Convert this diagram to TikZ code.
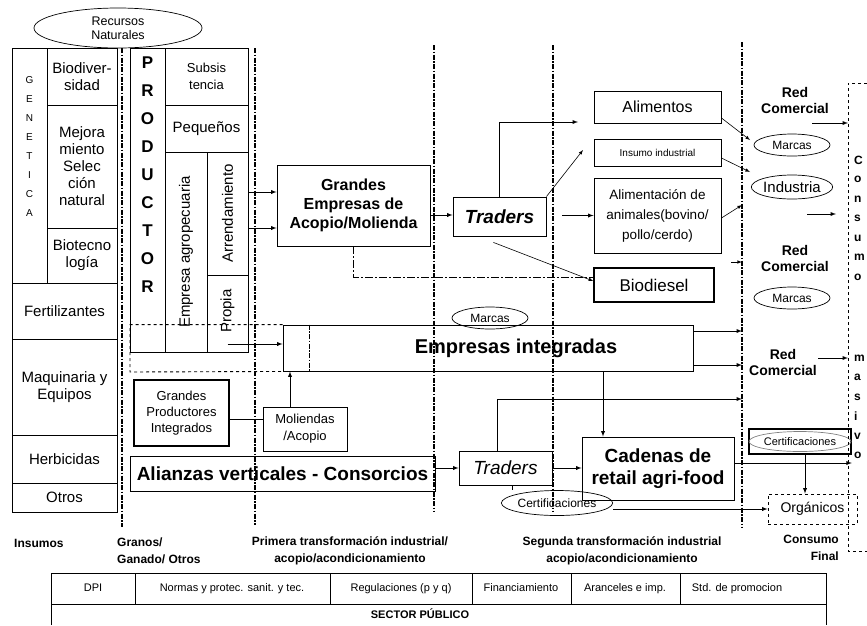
\documentclass[tikz,border=0pt]{standalone}
\usepackage{fontspec}
\setmainfont{Liberation Sans}
\usetikzlibrary{shapes.geometric}
\begin{document}
\begin{tikzpicture}[x=1pt, y=-1pt,
        every node/.style={font=\fontsize{15}{17}\selectfont, inner sep=1pt, align=center},
        box/.style={draw, line width=0.9pt},
        heavy/.style={draw, line width=1.6pt},
        oval/.style={draw, ellipse, line width=0.7pt, inner sep=0pt},
        big/.style={font=\bfseries\fontsize{19}{22}\selectfont},
        tag/.style={font=\bfseries\fontsize{14}{16}\selectfont},
        foot/.style={font=\bfseries\fontsize{12}{17}\selectfont},
        cell/.style={font=\fontsize{11}{13}\selectfont, text height=8pt, text depth=2.5pt},
        vletter/.style={anchor=west, inner sep=0pt, font=\bfseries\fontsize{12}{14}\selectfont},
        sep/.style={line width=1.2pt, dash pattern=on 5pt off 1.5pt on 1.5pt off 1.5pt},
        guide/.style={line width=0.8pt, dash pattern=on 8pt off 2pt on 2pt off 2pt},
        arr/.style={->, >=latex, line width=0.9pt},
        thinarr/.style={->, >=latex, line width=0.6pt}]
      \useasboundingbox (0,0) rectangle (867,625);

      % phase separators
      \foreach \x/\t/\b in {122/48/527, 255/48/525, 434/45/512, 553/45/512, 742/42/527}
        \draw[sep] (\x,\t) -- (\x,\b);
      \coordinate (s5) at (742,0);

      % insumos
      \node[oval, minimum width=168, minimum height=40, font=\fontsize{12.5}{14}\selectfont] (recnat) at (118,28) {Recursos\\Naturales};
      \node[box, minimum width=35, minimum height=235] (gen) at (29.5,165.5) {};
      \foreach \l [count=\i] in {G,E,N,E,T,I,C,A}
        \node[font=\fontsize{10}{12}\selectfont] (gen\i) at (29.5,61+19*\i) {\l};
      \node[box, minimum width=70, minimum height=57] (biodiv) at (82,76.5) {Biodiver-\\sidad};
      \node[box, minimum width=70, minimum height=123] (mejora) at (82,166.5) {Mejora\\miento\\Selec\\ción\\natural};
      \node[box, minimum width=70, minimum height=55] (biotec) at (82,255.5) {Biotecno\\logía};
      \node[box, minimum width=105, minimum height=56] (fert) at (64.5,311) {Fertilizantes};
      \node[box, minimum width=105, minimum height=96] (maq) at (64.5,387) {Maquinaria y\\Equipos};
      \node[box, minimum width=105, minimum height=48] (herb) at (64.5,459) {Herbicidas};
      \node[box, minimum width=105, minimum height=29] (otros) at (64.5,497.5) {Otros};

      % productor
      \node[box, minimum width=35, minimum height=304] (prod) at (147.5,200) {};
      \foreach \l [count=\i] in {P,R,O,D,U,C,T,O,R}
        \node[font=\bfseries\fontsize{17}{19}\selectfont] (prod\i) at (147.5,35+28*\i) {\l};
      \node[box, minimum width=83, minimum height=57, font=\fontsize{13}{17}\selectfont] (subs) at (206.5,76.5) {Subsis\\tencia};
      \node[box, minimum width=83, minimum height=47] (peq) at (206.5,128.5) {Pequeños};
      \node[box, minimum width=42, minimum height=200] (empagro) at (186,252) {};
      \node[rotate=90] (empagro-t) at (186,252) {Empresa agropecuaria};
      \node[box, minimum width=41, minimum height=123] (arrend) at (227.5,213.5) {};
      \node[rotate=90] (arrend-t) at (227.5,213.5) {Arrendamiento};
      \node[box, minimum width=41, minimum height=77] (propia) at (227.5,313.5) {};
      \node[rotate=90] (propia-t) at (227.5,311) {Propia};

      % primera transformacion
      \node[box, minimum width=153, minimum height=81, font=\bfseries\fontsize{16}{19}\selectfont] (grandes) at (353.5,205.5) {Grandes\\Empresas de\\Acopio/Molienda};
      \node[box, minimum width=93, minimum height=39, font=\bfseries\itshape\fontsize{19}{22}\selectfont] (traders1) at (499.5,216.5) {Traders};
      \node[box, minimum width=410, minimum height=46] (empint) at (488,348) {};
      \node[font=\bfseries\fontsize{20}{24}\selectfont] (empint-t) at (516,348) {Empresas integradas};
      \node[oval, minimum width=76, minimum height=22, font=\fontsize{12}{14}\selectfont] (marcas3) at (490,318) {Marcas};
      \coordinate (dbox) at (130,372);
      \draw[dashed, line width=0.9pt] (empint.north west) -| (dbox) -- (empint.south west);
      \draw[sep] ([xshift=27pt]empint.north west) -- ([xshift=27pt]empint.south west);
      \node[heavy, minimum width=95, minimum height=66, font=\fontsize{13}{16}\selectfont] (gpi) at (181.5,413) {Grandes\\Productores\\Integrados};
      \node[box, minimum width=84, minimum height=44, font=\fontsize{13}{17}\selectfont] (molac) at (305,429) {Moliendas\\/Acopio};
      \node[box, minimum width=305, minimum height=35, big] (alianzas) at (282.5,473.5) {Alianzas verticales - Consorcios};

      % segunda transformacion
      \node[box, minimum width=127, minimum height=32, font=\fontsize{16}{18}\selectfont] (alim) at (657.5,107) {Alimentos};
      \node[box, minimum width=127, minimum height=27, font=\fontsize{10}{12}\selectfont] (insumo) at (657.5,152.5) {Insumo industrial};
      \node[box, minimum width=127, minimum height=75, font=\fontsize{13.5}{20}\selectfont] (animal) at (657.5,215.5) {Alimentación de\\animales(bovino/\\pollo/cerdo)};
      \node[heavy, minimum width=120, minimum height=34, font=\fontsize{17}{19}\selectfont] (biodiesel) at (654,285) {Biodiesel};
      \node[box, minimum width=93, minimum height=34, font=\itshape\fontsize{19}{22}\selectfont] (traders2) at (505.5,468) {Traders};
      \node[box, minimum width=152, minimum height=63, big] (cadenas) at (658,468.5) {Cadenas de\\retail agri-food};
      \node[oval, minimum width=103, minimum height=25, font=\fontsize{12}{14}\selectfont] (certell) at (557,503) {Certificaciones};

      % consumo
      \node[tag] (redcom1) at (795,100) {Red\\Comercial};
      \node[oval, minimum width=76, minimum height=22, font=\fontsize{12}{14}\selectfont] (marcas1) at (792,145) {Marcas};
      \node[oval, minimum width=78, minimum height=24] (industria) at (792,187) {Industria};
      \node[tag] (redcom2) at (795,258) {Red\\Comercial};
      \node[oval, minimum width=76, minimum height=22, font=\fontsize{12}{14}\selectfont] (marcas2) at (792,298) {Marcas};
      \node[tag] (redcom3) at (783,362) {Red\\Comercial};
      \node[heavy, minimum width=102, minimum height=25] (certif) at (800,441.5) {};
      \node[oval, draw=black!50, minimum width=96, minimum height=20, font=\fontsize{11}{13}\selectfont] (certif-t) at (certif.center) {Certificaciones};
      \node[box, dashed, minimum width=89, minimum height=30, font=\fontsize{14}{16}\selectfont] (organicos) at (812.5,509) {Orgánicos};
      \coordinate (rb-top) at (867,83);
      \coordinate (rb-nw) at (848,83);
      \coordinate (rb-sw) at (848,551);
      \coordinate (rb-bot) at (867,551);
      \draw[dashed, line width=0.9pt] (rb-top) -- (rb-nw) -- (rb-sw) -- (rb-bot);
      \foreach \l [count=\i] in {C,o,n,s,u,m,o}
        \node[vletter] (cons\i) at (854,140.5+19.5*\i) {\l};
      \foreach \l [count=\i] in {m,a,s,i,v,o}
        \node[vletter] (mas\i) at (854,338.5+19.5*\i) {\l};

      % flows
      \draw[arr] (arrend.east |- 0,192) -- (grandes.west |- 0,192);
      \draw[arr] (arrend.east |- 0,228) -- (grandes.west |- 0,228);
      \draw[arr] (propia.center |- 0,344) -- (empint.west |- 0,344);
      \draw[arr] (grandes.east |- 0,215) -- (traders1.west |- 0,215);
      \draw[guide] (grandes.south) |- (biodiesel.west |- 0,277);
      \coordinate (to-alim) at (578,122);
      \draw[arr] (traders1.north) |- (to-alim);
      \coordinate (to-ins) at (583,150);
      \draw[thinarr] (traders1.north east) -- (to-ins);
      \coordinate (from-tr) at (562,215.5);
      \draw[arr] (from-tr) -- (animal.west);
      \draw[thinarr] ([xshift=-6pt,yshift=-6pt]traders1.south) -- (biodiesel.west |- 0,281);
      \coordinate (m1) at (750,140);
      \draw[thinarr] (alim.east |- 0,118) -- (m1);
      \coordinate (m2) at (750,172);
      \draw[thinarr] (insumo.east |- 0,158) -- (m2);
      \coordinate (m3) at (742,205);
      \draw[thinarr] (animal.east |- 0,218) -- (m3);
      \coordinate (m4) at (731,262);
      \draw[thinarr] (m4) -- (m4 -| s5);
      \draw[arr] (empint.east |- 0,331) -- (s5 |- 0,331);
      \draw[arr] (empint.east |- 0,365) -- (s5 |- 0,365);
      \draw[arr] (empint.south -| 603,0) -- (cadenas.north -| 603,0);
      \draw[line width=0.9pt] (gpi.east |- 0,419) -- (molac.west |- 0,419);
      \draw[arr] (molac.north -| 290,0) -- (empint.south -| 290,0);
      \draw[arr] (alianzas.east |- traders2.west) -- (traders2.west);
      \draw[arr] (traders2.north -| 497,0) |- (s5 |- 0,399);
      \draw[arr] (traders2.east) -- (traders2.east -| cadenas.west);
      \draw[line width=0.9pt] (traders2.south -| 512,0) -- (certell.north -| 512,0);
      \draw[arr] (certell.east |- organicos.west) -- (organicos.west);
      \draw[arr] (cadenas.east |- 0,463) -- (certif.east |- 0,463);
      \draw[arr] (certif.south -| 805,0) -- (organicos.north -| 805,0);
      \coordinate (rc1) at (812,123);
      \draw[arr] (rc1) -- (rc1 -| rb-nw);
      \coordinate (rc2) at (807,214);
      \draw[arr] (rc2) -- ++(29,0);
      \coordinate (rc3) at (818,358);
      \draw[arr] (rc3) -- (rc3 -| rb-nw);

      % stages
      \node[foot, anchor=west] (lab-ins) at (13,543) {Insumos};
      \node[foot, anchor=west, align=left] (lab-gra) at (116,551) {Granos/\\Ganado/ Otros};
      \node[foot] (lab-prim) at (350,551) {Primera transformación industrial/\\acopio/acondicionamiento};
      \node[foot] (lab-seg) at (622,551) {Segunda transformación industrial\\acopio/acondicionamiento};
      \node[foot, anchor=east, align=right] (lab-cons) at (840,548) {Consumo\\Final};

      % sector publico
      \draw[line width=0.9pt] (51,625) |- (826,573) -- (826,625);
      \draw[line width=0.9pt] (51,604) -- (826,604);
      \foreach \x in {135,330,472,571,680}
        \draw[line width=0.9pt] (\x,573) -- (\x,604);
      \foreach \t/\x [count=\i] in {DPI/93, Normas y protec. sanit. y tec./232, Regulaciones (p y q)/401, Financiamiento/521, Aranceles e imp./625, Std. de promocion/737}
        \node[cell] (pol\i) at (\x,588.5) {\t};
      \node[font=\bfseries\fontsize{11}{13}\selectfont] (sector) at (420,614) {SECTOR PÚBLICO};
\end{tikzpicture}
\end{document}
